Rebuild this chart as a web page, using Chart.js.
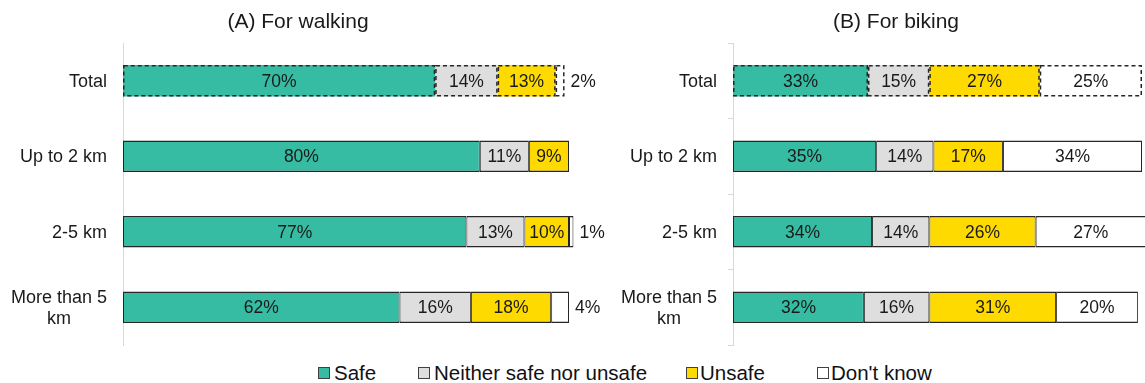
<!DOCTYPE html>
<html>
<head>
<meta charset="utf-8">
<script src="https://cdn.jsdelivr.net/npm/chart.js@4/dist/chart.umd.min.js"></script>
<style>
  html, body { margin: 0; padding: 0; background: #ffffff; }
  #wrap { position: relative; width: 1145px; height: 383px; overflow: hidden; font-family: "Liberation Sans", Arial, sans-serif; }
  canvas { position: absolute; top: 0; }
  #walk { left: 0; }
  #bike { left: 610px; }
  .legend-box { position: absolute; top: 367px; width: 10px; height: 10px; border: 1px solid #404040; }
  .legend-text { position: absolute; top: 361px; font-size: 20.5px; line-height: 24px; color: #111111; white-space: nowrap; }
</style>
</head>
<body>
<div id="wrap">
  <canvas id="walk" width="610" height="350"></canvas>
  <canvas id="bike" width="535" height="350"></canvas>
  <div id="legend"></div>
</div>
<script>
// Row categories (multi-line labels are given as arrays of lines)
const categories = ['Total', 'Up to 2 km', '2-5 km', ['More than 5', 'km']];

// Response options
const seriesNames = ['Safe', 'Neither safe nor unsafe', 'Unsafe', "Don't know"];

// (A) For walking, share of respondents in %
const walkSafe     = [70, 80, 77, 62];
const walkNeither  = [14, 11, 13, 16];
const walkUnsafe   = [13, 9, 10, 18];
const walkDontKnow = [2, null, 1, 4];

// (B) For biking, share of respondents in %
const bikeSafe     = [33, 35, 34, 32];
const bikeNeither  = [15, 14, 14, 16];
const bikeUnsafe   = [27, 17, 26, 31];
const bikeDontKnow = [25, 34, 27, 20];

const panelTitles = ['(A) For walking', '(B) For biking'];

const COLORS = ['#37bca4', '#dedede', '#ffda00', '#ffffff'];
const EDGE = '#262626';
const FONT_FAMILY = '"Liberation Sans", Arial, sans-serif';

// Solid edges for normal rows; the Total row gets a dashed outline instead
function edgeWidth(ctx) {
  if (ctx.dataIndex === 0) return 0;
  return { top: 1.5, bottom: 1.5, left: 1, right: 1 };
}

function makeDatasets(series) {
  return series.map((values, i) => ({
    label: seriesNames[i],
    data: values,
    backgroundColor: COLORS[i],
    borderColor: EDGE,
    borderWidth: edgeWidth,
    borderSkipped: false,
    barPercentage: 0.42,
    categoryPercentage: 1,
    clip: false
  }));
}

// Dashed outline around every segment of the Total row
const dashedTotal = {
  id: 'dashedTotal',
  afterDatasetsDraw(chart) {
    const ctx = chart.ctx;
    ctx.save();
    ctx.setLineDash([4, 3]);
    ctx.lineWidth = 1.5;
    ctx.strokeStyle = EDGE;
    chart.data.datasets.forEach((ds, i) => {
      const bar = chart.getDatasetMeta(i).data[0];
      if (!bar || ds.data[0] == null) return;
      const p = bar.getProps(['x', 'y', 'base', 'height'], true);
      const left = Math.min(p.x, p.base);
      const w = Math.abs(p.x - p.base);
      ctx.strokeRect(left + 0.75, p.y - p.height / 2 + 0.75, w - 1.5, p.height - 1.5);
    });
    ctx.restore();
  }
};

// Percentage labels: centred inside wide segments, to the right of thin ones
const valueLabels = {
  id: 'valueLabels',
  afterDatasetsDraw(chart) {
    const ctx = chart.ctx;
    ctx.save();
    ctx.font = '17.5px ' + FONT_FAMILY;
    ctx.fillStyle = '#1a1a1a';
    ctx.textBaseline = 'middle';
    chart.data.datasets.forEach((ds, i) => {
      chart.getDatasetMeta(i).data.forEach((bar, j) => {
        const v = ds.data[j];
        if (v == null) return;
        const p = bar.getProps(['x', 'y', 'base'], true);
        const text = v + '%';
        if (v < 5) {
          ctx.textAlign = 'left';
          ctx.fillText(text, Math.max(p.x, p.base) + 6, p.y + 1);
        } else {
          ctx.textAlign = 'center';
          ctx.fillText(text, (p.x + p.base) / 2, p.y + 1);
        }
      });
    });
    ctx.restore();
  }
};

// Category names to the left of the axis; wrapped lines are centred on each other
const categoryLabels = {
  id: 'categoryLabels',
  afterDraw(chart) {
    const ctx = chart.ctx;
    const yScale = chart.scales.y;
    const right = chart.chartArea.left - 16;
    const lineH = 21;
    ctx.save();
    ctx.font = '18px ' + FONT_FAMILY;
    ctx.fillStyle = '#1a1a1a';
    ctx.textBaseline = 'middle';
    ctx.textAlign = 'center';
    chart.data.labels.forEach((lab, j) => {
      const lines = Array.isArray(lab) ? lab : [lab];
      const w = Math.max(...lines.map(l => ctx.measureText(l).width));
      const cx = right - w / 2;
      const cy = yScale.getPixelForValue(j);
      lines.forEach((l, k) => {
        ctx.fillText(l, cx, cy + (k - (lines.length - 1) / 2) * lineH + 1);
      });
    });
    ctx.restore();
  }
};

// Panel heading
const panelTitle = {
  id: 'panelTitle',
  afterDraw(chart, args, opts) {
    const ctx = chart.ctx;
    ctx.save();
    ctx.font = '21px ' + FONT_FAMILY;
    ctx.fillStyle = '#1a1a1a';
    ctx.textAlign = 'center';
    ctx.textBaseline = 'middle';
    ctx.fillText(opts.text, opts.x, 22);
    ctx.restore();
  }
};

function makeChart(id, series, title, titleX, padRight, showTicks) {
  return new Chart(document.getElementById(id), {
    type: 'bar',
    data: { labels: categories, datasets: makeDatasets(series) },
    options: {
      indexAxis: 'y',
      responsive: false,
      animation: false,
      devicePixelRatio: 1,
      layout: { padding: { top: 43, bottom: 5, left: 0, right: padRight } },
      scales: {
        x: { stacked: true, min: 0, max: 100, display: false },
        y: {
          stacked: true,
          ticks: { display: false },
          grid: {
            display: showTicks,
            drawOnChartArea: false,
            drawTicks: true,
            tickLength: 5,
            color: '#d9d9d9',
            offset: true
          },
          border: { display: true, color: '#d9d9d9', width: 1 },
          afterFit(scale) { scale.width = 123; }
        }
      },
      plugins: {
        legend: { display: false },
        tooltip: { enabled: false },
        panelTitle: { text: title, x: titleX }
      }
    },
    plugins: [dashedTotal, valueLabels, categoryLabels, panelTitle]
  });
}

makeChart('walk', [walkSafe, walkNeither, walkUnsafe, walkDontKnow], panelTitles[0], 298, 41, false);
makeChart('bike', [bikeSafe, bikeNeither, bikeUnsafe, bikeDontKnow], panelTitles[1], 286, 3, true);

// Shared legend below both panels
const legendBoxX = [318, 418, 686, 817];
const legendTextX = [334, 434, 700, 831];
const legend = document.getElementById('legend');
seriesNames.forEach((name, i) => {
  const box = document.createElement('div');
  box.className = 'legend-box';
  box.style.left = legendBoxX[i] + 'px';
  box.style.background = COLORS[i];
  legend.appendChild(box);
  const txt = document.createElement('div');
  txt.className = 'legend-text';
  txt.style.left = legendTextX[i] + 'px';
  txt.textContent = name;
  legend.appendChild(txt);
});
</script>
</body>
</html>
